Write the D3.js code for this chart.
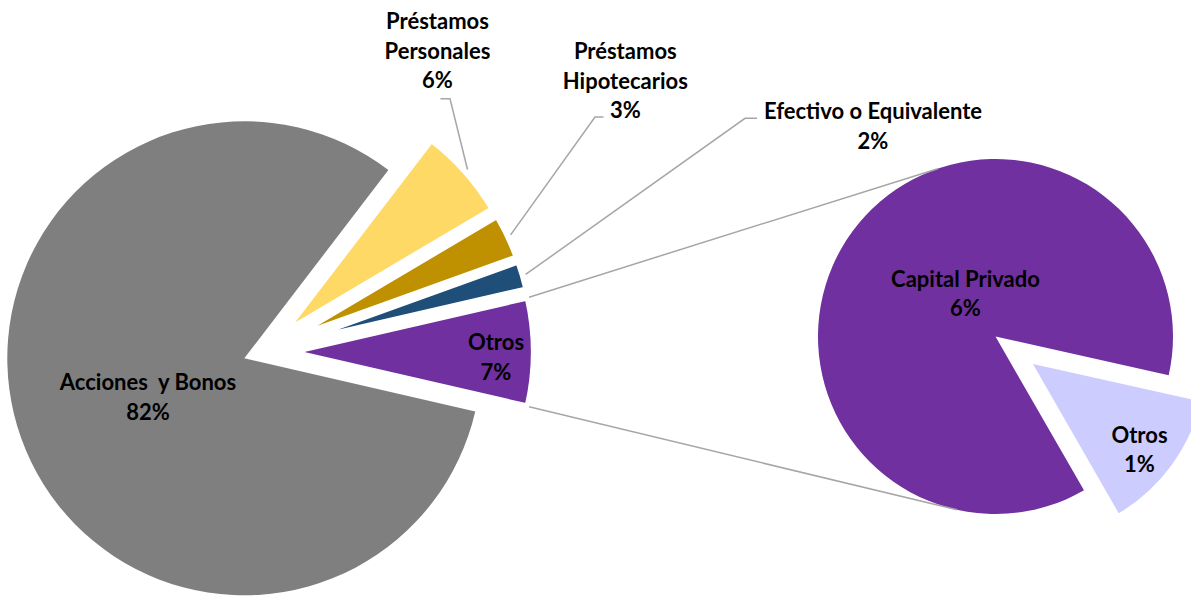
<!DOCTYPE html>
<html><head><meta charset="utf-8">
<script src="https://cdn.jsdelivr.net/npm/d3@7"></script>
<style>
body{margin:0;background:#fff}
text{font-family:Lato,"Open Sans",sans-serif;font-weight:700;font-size:22px;fill:#000}
</style>
</head><body>
<svg id="chart" width="1191" height="596"></svg>
<script>
// ---- data ----
const categories = ["Acciones  y Bonos", "Préstamos Personales", "Préstamos Hipotecarios", "Efectivo o Equivalente", "Otros"];
const values = [81.8, 6.1, 3.0, 1.9, 7.2];
const valueLabels = ["82%", "6%", "3%", "2%", "7%"];
const subCategories = ["Capital Privado", "Otros"];
const subValues = [6.25, 0.95];
const subValueLabels = ["6%", "1%"];
const colors = ["#7F7F7F", "#FFD966", "#BF9000", "#1F4E79", "#7030A0"];
const subColors = ["#7030A0", "#CCCCFF"];

// ---- layout ----
const deg = Math.PI / 180;
const mainPie = {cx: 261.8, cy: 352, rSmall: 243, rBig: 237, explode: [18.6, 29, 29, 29, 29], bigIndex: 0};
const subPie = {cx: 995.5, cy: 336.5, rBig: 177.5, rSmall: 182, explode: [0, 39], start: 150.1, bigIndex: 0};
const lineH = 29.5;
const mainLabels = [
  {x: 148, y: 390, wrap: false},
  {x: 437.5, y: 29.3, wrap: true, elbow: [[450, 98.7], [440.5, 98.7]]},
  {x: 625.3, y: 59.3, wrap: true, elbow: [[595, 117], [603.5, 117]]},
  {x: 873, y: 119.3, wrap: false, elbow: [[745, 118.3], [757, 118.3]]},
  {x: 496, y: 350, wrap: false}
];
const subLabels = [{x: 965.5, y: 286.7}, {x: 1139.5, y: 442.7}];
const connectorSubAngles = [341, 192.5];
const lineColor = "#A6A6A6";

const svg = d3.select("#chart");
const dir = a => [Math.sin(a), -Math.cos(a)];

// main pie
const total = d3.sum(values);
const otherIdx = values.length - 1;
const a0 = Math.PI / 2 + Math.PI * values[otherIdx] / total;
const pie = d3.pie().sort(null).value(d => d).startAngle(a0).endAngle(a0 + 2 * Math.PI);
const arcsMain = pie(values);

function sliceCenter(p, a, i) {
  const b = (a.startAngle + a.endAngle) / 2;
  const [dx, dy] = dir(b);
  return [p.cx + dx * p.explode[i], p.cy + dy * p.explode[i]];
}

const gMain = svg.append("g");
arcsMain.forEach((a, i) => {
  const c = sliceCenter(mainPie, a, i);
  const big = i === mainPie.bigIndex;
  const arc = d3.arc().innerRadius(0).outerRadius(big ? mainPie.rBig : mainPie.rSmall);
  gMain.append("path")
    .attr("transform", `translate(${c[0]},${c[1]})`)
    .attr("d", arc(a))
    .attr("fill", colors[i])
    .attr("stroke", big ? "none" : "#fff")
    .attr("stroke-width", big ? 0 : 6)
    .attr("stroke-linejoin", "miter");
});

// second pie
const s0 = subPie.start * deg;
const pie2 = d3.pie().sort(null).value(d => d).startAngle(s0).endAngle(s0 + 2 * Math.PI);
const arcsSub = pie2(subValues);
const gSub = svg.append("g");
arcsSub.forEach((a, i) => {
  const c = sliceCenter(subPie, a, i);
  const big = i === subPie.bigIndex;
  const arc = d3.arc().innerRadius(0).outerRadius(big ? subPie.rBig : subPie.rSmall);
  gSub.append("path")
    .attr("transform", `translate(${c[0]},${c[1]})`)
    .attr("d", arc(a))
    .attr("fill", subColors[i])
    .attr("stroke", big ? "none" : "#fff")
    .attr("stroke-width", big ? 0 : 6);
});

// connector lines
const oa = arcsMain[otherIdx];
const oc = sliceCenter(mainPie, oa, otherIdx);
[oa.startAngle, oa.endAngle].forEach((ang, k) => {
  const [dx, dy] = dir(ang);
  const r = mainPie.rSmall + 1.5;
  const [ex, ey] = dir(connectorSubAngles[k] * deg);
  svg.append("line")
    .attr("x1", oc[0] + dx * r).attr("y1", oc[1] + dy * r)
    .attr("x2", subPie.cx + ex * subPie.rBig).attr("y2", subPie.cy + ey * subPie.rBig)
    .attr("stroke", lineColor).attr("stroke-width", 1.5);
});

// leader lines
arcsMain.forEach((a, i) => {
  const L = mainLabels[i];
  if (!L.elbow) return;
  const c = sliceCenter(mainPie, a, i);
  const b = (a.startAngle + a.endAngle) / 2;
  const [dx, dy] = dir(b);
  const r = mainPie.rSmall + 3;
  const pts = [[c[0] + dx * r, c[1] + dy * r], ...L.elbow];
  svg.append("path")
    .attr("d", d3.line()(pts))
    .attr("fill", "none").attr("stroke", lineColor).attr("stroke-width", 1.5);
});

// labels
function drawLabel(x, y, lines) {
  const t = svg.append("text").attr("text-anchor", "middle").style("white-space", "pre");
  lines.forEach((ln, k) => {
    t.append("tspan").attr("x", x).attr("y", y + k * lineH).text(ln);
  });
}
categories.forEach((cat, i) => {
  const L = mainLabels[i];
  const lines = L.wrap ? cat.split(" ") : [cat];
  drawLabel(L.x, L.y, [...lines, valueLabels[i]]);
});
subCategories.forEach((cat, i) => {
  const L = subLabels[i];
  drawLabel(L.x, L.y, [cat, subValueLabels[i]]);
});
</script>
</body></html>
